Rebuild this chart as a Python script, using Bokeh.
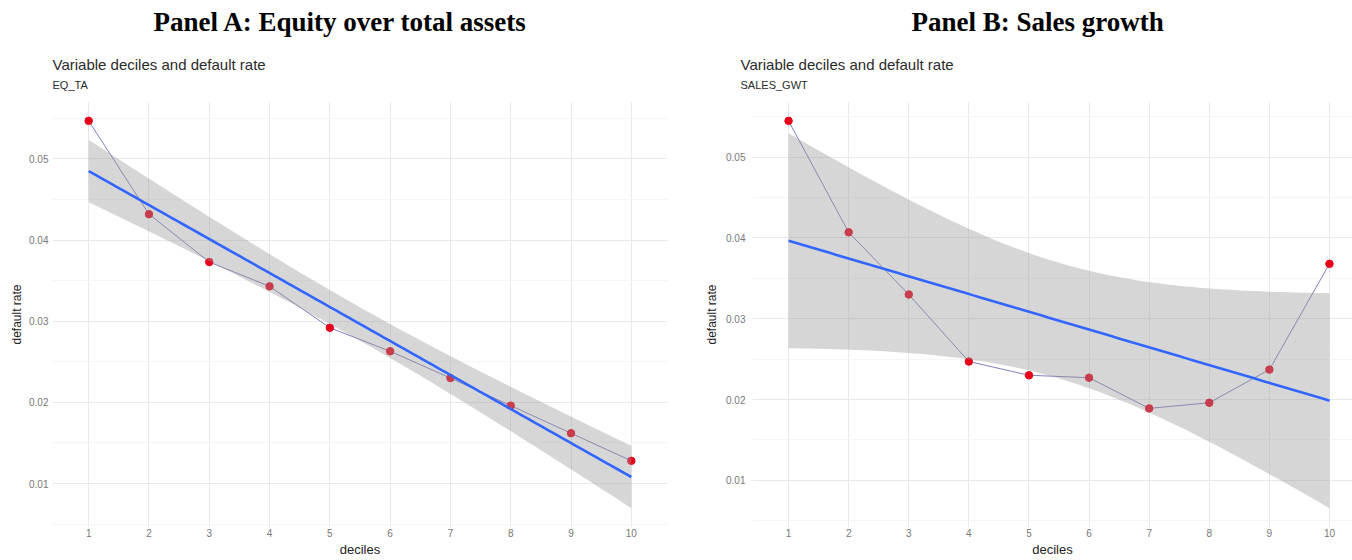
import numpy as np
from bokeh.plotting import figure
from bokeh.models import Range1d, Title, FixedTicker
from bokeh.layouts import row
from bokeh.embed import file_html
from bokeh.resources import INLINE

# ---------------- data ----------------
deciles = [1, 2, 3, 4, 5, 6, 7, 8, 9, 10]
x_tick_labels = ["1", "2", "3", "4", "5", "6", "7", "8", "9", "10"]
eq_ta_default_rate = [0.0547, 0.0432, 0.0373, 0.0343, 0.0292, 0.0263, 0.0230, 0.0196, 0.0162, 0.0128]
sales_gwt_default_rate = [0.0545, 0.0407, 0.0330, 0.0247, 0.0230, 0.0227, 0.0189, 0.0196, 0.0237, 0.0368]
y_ticks = [0.01, 0.02, 0.03, 0.04, 0.05]
y_tick_labels = ["0.01", "0.02", "0.03", "0.04", "0.05"]
y_minor_ticks = [0.005, 0.015, 0.025, 0.035, 0.045, 0.055]
panel_titles = ["Panel A: Equity over total assets", "Panel B: Sales growth"]
subtitle = "Variable deciles and default rate"
variable_names = ["EQ_TA", "SALES_GWT"]
x_label = "deciles"
y_label = "default rate"

T95_DF8 = 2.306004  # qt(0.975, df = n - 2 = 8), as used by geom_smooth(method = "lm")


def lm_smooth(x, y, n=80):
    x = np.asarray(x, float)
    y = np.asarray(y, float)
    b, a = np.polyfit(x, y, 1)
    resid = y - (a + b * x)
    s = np.sqrt(np.sum(resid ** 2) / (len(x) - 2))
    xs = np.linspace(x.min(), x.max(), n)
    fit = a + b * xs
    se = s * np.sqrt(1.0 / len(x) + (xs - x.mean()) ** 2 / np.sum((x - x.mean()) ** 2))
    return xs, fit, fit - T95_DF8 * se, fit + T95_DF8 * se


W, H = 676, 560
TOP, BOTTOM = 100, 33
SANS = "Liberation Sans"
SERIF = "Liberation Serif"


def make_panel(i, rates, border_left, border_right, x_end, opt):
    xs, fit, lo, hi = lm_smooth(deciles, rates)
    ymin = min(lo.min(), min(rates))
    ymax = max(hi.max(), max(rates))
    pad = 0.05 * (ymax - ymin)
    p = figure(width=W, height=H, output_backend="svg", toolbar_location=None,
               x_range=Range1d(0.4, x_end), y_range=Range1d(ymin - pad, ymax + pad),
               min_border_left=border_left, min_border_right=border_right,
               min_border_top=TOP, min_border_bottom=BOTTOM,
               background_fill_color="white", border_fill_color="white",
               outline_line_color=None)

    # grids
    p.xgrid.ticker = FixedTicker(ticks=deciles)
    p.ygrid.ticker = FixedTicker(ticks=y_ticks, minor_ticks=y_minor_ticks)
    p.xgrid.grid_line_color = "#e9e9e9"
    p.ygrid.grid_line_color = "#e9e9e9"
    p.ygrid.minor_grid_line_color = "#f2f2f2"
    p.ygrid.minor_grid_line_width = 0.8

    # axes
    p.xaxis.ticker = FixedTicker(ticks=deciles)
    p.xaxis.major_label_overrides = {d: lab for d, lab in zip(deciles, x_tick_labels)}
    p.yaxis.ticker = FixedTicker(ticks=y_ticks)
    p.yaxis.major_label_overrides = {t: lab for t, lab in zip(y_ticks, y_tick_labels)}
    for ax in (p.xaxis, p.yaxis):
        ax.axis_line_color = None
        ax.major_tick_line_color = None
        ax.minor_tick_line_color = None
        ax.major_label_text_font = SANS
        ax.major_label_text_font_size = "10px"
        ax.major_label_text_color = "#777777"
        ax.axis_label_text_font = SANS
        ax.axis_label_text_font_style = "normal"
        ax.axis_label_text_color = "#222222"
    p.xaxis.axis_label = x_label
    p.yaxis.axis_label = y_label
    p.xaxis.axis_label_text_font_size = "13px"
    p.yaxis.axis_label_text_font_size = "12px"
    p.xaxis.major_label_standoff = -5
    p.xaxis.axis_label_standoff = 2
    p.yaxis.major_label_standoff = opt["ytick_standoff"]
    p.yaxis.axis_label_standoff = opt["ylab_standoff"]

    # marks: connecting line, points, confidence band, fitted line
    p.line(deciles, rates, line_color="#7f7fc2", line_width=1)
    p.scatter(deciles, rates, size=7.5, fill_color="#e8001a", line_color="#e8001a")
    p.varea(x=xs, y1=lo, y2=hi, fill_color="#999999", fill_alpha=0.4)
    p.line(xs, fit, line_color="#3366FF", line_width=2.6)

    # titles: nearest to the frame first
    p.add_layout(Title(text=variable_names[i], text_font=SANS, text_font_size="11px",
                       text_font_style="normal", text_color="#2b2b2b", align="left",
                       offset=opt["sub_off"], standoff=22), "above")
    p.add_layout(Title(text=subtitle, text_font=SANS, text_font_size="15px",
                       text_font_style="normal", text_color="#2b2b2b", align="left",
                       offset=opt["sub_off"], standoff=-15), "above")
    # blank spacer between the subtitle block and the panel heading
    p.add_layout(Title(text=" ", text_font_size="1px", standoff=18), "above")
    p.add_layout(Title(text=panel_titles[i], text_font=SERIF, text_font_size="27px",
                       text_font_style="bold", text_color="#000000", align="left",
                       offset=opt["title_off"], standoff=8), "above")
    return p


pA = make_panel(0, eq_ta_default_rate, 52, 9, 10.6,
                dict(title_off=101, sub_off=0, ytick_standoff=-2, ylab_standoff=2))
pB = make_panel(1, sales_gwt_default_rate, 76, 0, 10.383,
                dict(title_off=159, sub_off=-12, ytick_standoff=1, ylab_standoff=4))

layout = row(pA, pB)
open("out.html", "w").write(file_html(layout, INLINE))
